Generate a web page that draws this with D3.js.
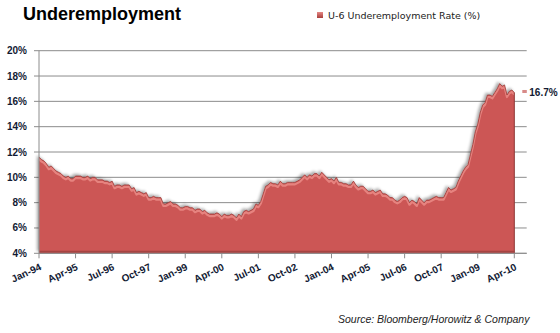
<!DOCTYPE html>
<html>
<head>
<meta charset="utf-8">
<script src="https://cdn.jsdelivr.net/npm/d3@7/dist/d3.min.js"></script>
<style>
  html, body { margin: 0; padding: 0; background: #fff; }
  svg { display: block; }
</style>
</head>
<body>
<svg id="chart" width="560" height="333"></svg>
<script>
// U-6 underemployment rate, monthly, Jan 1994 – Apr 2010 (%)
const startMonth = new Date(1994, 0, 1);
const u6Rate = [
  // 1994
  11.6, 11.4, 11.3, 11.1, 10.8, 10.9, 10.7, 10.5, 10.4, 10.3, 10.1, 10.0,
  // 1995
  10.1, 9.9, 9.9, 10.1, 10.1, 10.1, 10.0, 10.0, 10.1, 9.9, 10.0, 10.0,
  // 1996
  9.8, 9.8, 9.8, 9.7, 9.7, 9.6, 9.7, 9.3, 9.4, 9.4, 9.3, 9.4,
  // 1997
  9.4, 9.4, 9.1, 9.2, 8.8, 8.9, 8.8, 8.7, 8.8, 8.4, 8.4, 8.5,
  // 1998
  8.4, 8.4, 8.4, 7.9, 7.9, 8.0, 8.1, 7.9, 7.9, 7.8, 7.6, 7.6,
  // 1999
  7.7, 7.7, 7.6, 7.6, 7.4, 7.5, 7.5, 7.3, 7.4, 7.2, 7.1, 7.1,
  // 2000
  7.1, 7.2, 7.1, 6.9, 7.1, 7.0, 7.0, 7.1, 7.0, 6.8, 7.1, 6.9,
  // 2001
  7.3, 7.4, 7.3, 7.4, 7.5, 7.9, 7.8, 8.1, 8.7, 9.3, 9.4, 9.6,
  // 2002
  9.5, 9.5, 9.4, 9.7, 9.5, 9.5, 9.6, 9.6, 9.6, 9.6, 9.7, 9.8,
  // 2003
  10.0, 10.2, 10.0, 10.2, 10.1, 10.3, 10.3, 10.1, 10.4, 10.2, 10.0, 9.8,
  // 2004
  9.9, 9.7, 10.0, 9.6, 9.6, 9.5, 9.5, 9.4, 9.4, 9.7, 9.4, 9.2,
  // 2005
  9.3, 9.3, 9.1, 8.9, 8.9, 9.0, 8.8, 8.9, 9.0, 8.7, 8.7, 8.6,
  // 2006
  8.4, 8.4, 8.2, 8.1, 8.2, 8.4, 8.5, 8.4, 8.0, 8.2, 8.1, 7.9,
  // 2007
  8.4, 8.2, 8.0, 8.2, 8.2, 8.3, 8.4, 8.5, 8.4, 8.4, 8.4, 8.8,
  // 2008
  9.2, 9.0, 9.1, 9.2, 9.7, 10.1, 10.5, 10.8, 11.0, 11.8, 12.6, 13.6,
  // 2009
  14.2, 15.1, 15.7, 15.9, 16.5, 16.5, 16.4, 16.7, 17.0, 17.4, 17.2, 17.3,
  // 2010
  16.5, 16.8, 16.9, 16.7
];

const xTickMonths = [0, 15, 30, 45, 60, 75, 90, 105, 120, 135, 150, 165, 180, 195];
const xTickLabels = ["Jan-94", "Apr-95", "Jul-96", "Oct-97", "Jan-99", "Apr-00", "Jul-01",
                     "Oct-02", "Jan-04", "Apr-05", "Jul-06", "Oct-07", "Jan-09", "Apr-10"];
const yTicks = [4, 6, 8, 10, 12, 14, 16, 18, 20];

const seriesName = "U-6 Underemployment Rate (%)";
const titleText = "Underemployment";
const sourceText = "Source: Bloomberg/Horowitz & Company";

const points = u6Rate.map((v, i) => ({ i, date: d3.timeMonth.offset(startMonth, i), value: v }));
const lastPoint = points[points.length - 1];

const svg = d3.select("#chart");
const plot = { left: 39, right: 526.7, top: 50.7, bottom: 253.3 };

const x = d3.scaleLinear().domain([0, 195]).range([plot.left, 514.3]);
const y = d3.scaleLinear().domain([4, 20]).range([plot.bottom, plot.top]);

const defs = svg.append("defs");
const shadow = defs.append("filter").attr("id", "shade")
  .attr("x", "-5%").attr("y", "-10%").attr("width", "110%").attr("height", "120%");
shadow.append("feGaussianBlur").attr("in", "SourceAlpha").attr("stdDeviation", 1.6).attr("result", "b");
shadow.append("feOffset").attr("in", "b").attr("dx", -2).attr("dy", -2).attr("result", "o");
shadow.append("feComponentTransfer").attr("in", "o").attr("result", "s")
  .append("feFuncA").attr("type", "linear").attr("slope", 0.35);
const merge = shadow.append("feMerge");
merge.append("feMergeNode").attr("in", "s");
merge.append("feMergeNode").attr("in", "SourceGraphic");

const keyGrad = defs.append("linearGradient").attr("id", "keyGrad")
  .attr("x1", 0).attr("y1", 0).attr("x2", 0).attr("y2", 1);
keyGrad.append("stop").attr("offset", 0).attr("stop-color", "#e58986");
keyGrad.append("stop").attr("offset", 1).attr("stop-color", "#a83e3b");

defs.append("clipPath").attr("id", "areaClip")
  .append("path")
  .attr("d", d3.area().x(d => x(d.i)).y0(y(4)).y1(d => y(d.value))(points));

// Gridlines
svg.append("g").selectAll("line").data(yTicks).join("line")
  .attr("x1", plot.left - 5).attr("x2", plot.right)
  .attr("y1", d => y(d)).attr("y2", d => y(d))
  .attr("stroke", "#8c8c8c").attr("stroke-width", 1);

// Area
const area = d3.area().x(d => x(d.i)).y0(y(4)).y1(d => y(d.value));
const line = d3.line().x(d => x(d.i)).y(d => y(d.value));

svg.append("path").datum(points)
  .attr("d", area)
  .attr("fill", "#cc5754")
  .attr("filter", "url(#shade)");

// bevel highlight just under the top edge
svg.append("g").attr("clip-path", "url(#areaClip)")
  .append("path").datum(points)
  .attr("d", line)
  .attr("transform", "translate(0,2)")
  .attr("fill", "none")
  .attr("stroke", "#e6837f")
  .attr("stroke-width", 2.2)
  .attr("stroke-linejoin", "round");

svg.append("path").datum(points)
  .attr("d", line)
  .attr("fill", "none")
  .attr("stroke", "#9c3d3b")
  .attr("stroke-width", 0.8);

// right edge and base of the area
svg.append("line")
  .attr("x1", x(lastPoint.i)).attr("x2", x(lastPoint.i))
  .attr("y1", y(lastPoint.value)).attr("y2", y(4))
  .attr("stroke", "#8e3634").attr("stroke-width", 1);
svg.append("line")
  .attr("x1", x(0)).attr("x2", x(lastPoint.i))
  .attr("y1", y(4) - 1.5).attr("y2", y(4) - 1.5)
  .attr("stroke", "#a54442").attr("stroke-width", 2);

// Axes
const axisColor = "#8c8c8c";
svg.append("line")
  .attr("x1", plot.left).attr("x2", plot.left)
  .attr("y1", plot.top).attr("y2", plot.bottom)
  .attr("stroke", axisColor);
svg.append("line")
  .attr("x1", plot.left).attr("x2", plot.right)
  .attr("y1", plot.bottom).attr("y2", plot.bottom)
  .attr("stroke", axisColor);

svg.append("g").selectAll("line").data(xTickMonths).join("line")
  .attr("x1", d => x(d)).attr("x2", d => x(d))
  .attr("y1", plot.bottom).attr("y2", plot.bottom + 5)
  .attr("stroke", axisColor);

const labelFont = "'Liberation Sans', Arial, sans-serif";

svg.append("g").selectAll("text").data(yTicks).join("text")
  .attr("x", 27).attr("y", d => y(d) + 3.5)
  .attr("text-anchor", "end")
  .attr("font-family", labelFont).attr("font-weight", "bold").attr("font-size", 10)
  .attr("fill", "#121a33")
  .text(d => d + "%");

svg.append("g").selectAll("text").data(xTickMonths).join("text")
  .attr("transform", d => `translate(${x(d) + 3},${plot.bottom + 16}) rotate(-25)`)
  .attr("text-anchor", "end")
  .attr("font-family", labelFont).attr("font-weight", "bold").attr("font-size", 10)
  .attr("fill", "#121a33")
  .text((d, k) => xTickLabels[k]);

// Value label at the last point
svg.append("rect")
  .attr("x", x(lastPoint.i) + 8).attr("y", y(lastPoint.value) - 2.5)
  .attr("width", 4.5).attr("height", 3)
  .attr("fill", "#d88a88");
svg.append("text")
  .attr("x", x(lastPoint.i) + 15).attr("y", y(lastPoint.value) + 4)
  .attr("font-family", labelFont).attr("font-weight", "bold").attr("font-size", 10)
  .attr("fill", "#121a33")
  .text(d3.format(".1f")(lastPoint.value) + "%");

// Title
svg.append("text")
  .attr("x", 23).attr("y", 20)
  .attr("font-family", labelFont).attr("font-weight", "bold").attr("font-size", 18)
  .attr("fill", "#000")
  .text(titleText);

// Legend
svg.append("rect")
  .attr("x", 317).attr("y", 12).attr("width", 6).attr("height", 6)
  .attr("fill", "url(#keyGrad)");
svg.append("text")
  .attr("x", 328).attr("y", 19)
  .attr("font-family", "'DejaVu Sans', sans-serif").attr("font-size", 9.5)
  .attr("fill", "#222")
  .text(seriesName);

// Source note
svg.append("text")
  .attr("x", 338).attr("y", 323)
  .attr("font-family", labelFont).attr("font-style", "italic").attr("font-size", 10.5)
  .attr("fill", "#222")
  .text(sourceText);
</script>
</body>
</html>
